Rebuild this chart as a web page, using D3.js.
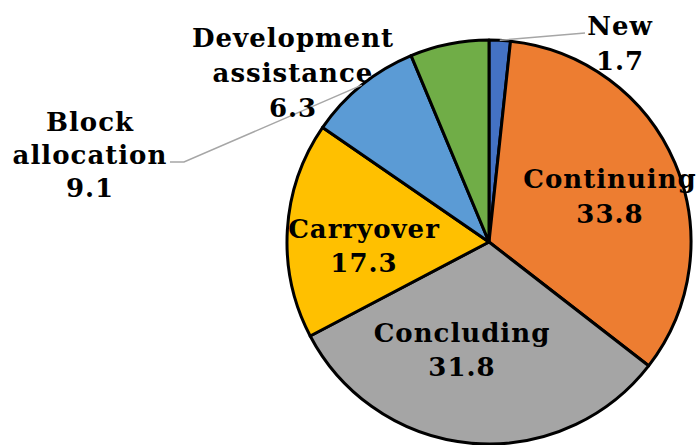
<!DOCTYPE html>
<html>
<head>
<meta charset="utf-8">
<script src="https://cdn.jsdelivr.net/npm/d3@7/dist/d3.min.js"></script>
<style>
html,body{margin:0;padding:0;background:#fff;}
svg{display:block;}
text{font-family:"DejaVu Serif",Georgia,serif;font-weight:bold;fill:#000;}
</style>
</head>
<body>
<svg id="chart" width="698" height="445"></svg>
<script>
// Data
const categories = ["New", "Continuing", "Concluding", "Carryover", "Block allocation", "Development assistance"];
const values = [1.7, 33.8, 31.8, 17.3, 9.1, 6.3];
const labelLines = [["New"], ["Continuing"], ["Concluding"], ["Carryover"], ["Block", "allocation"], ["Development", "assistance"]];
const colors = ["#4472C4", "#ED7D31", "#A5A5A5", "#FFC000", "#5B9BD5", "#70AD47"];

// Layout (label anchor = centre x, baseline of first line)
const cx = 489, cy = 242, R = 202;
const labelLayout = [
  {x: 620, y: 35, lead: [[585, 33]]},
  {x: 610, y: 188},
  {x: 462, y: 342},
  {x: 364, y: 238},
  {x: 90, y: 131, lead: [[170, 162], [184, 162]]},
  {x: 293, y: 47}
];
const lineGap = [35, 35, 34, 34, 33, 35];

const data = categories.map((c, i) => ({name: c, value: values[i], lines: labelLines[i], color: colors[i], layout: labelLayout[i], gap: lineGap[i]}));

const svg = d3.select("#chart");
const g = svg.append("g").attr("transform", `translate(${cx},${cy})`);

const pie = d3.pie().value(d => d.value).sort(null);
const arc = d3.arc().innerRadius(0).outerRadius(R);
const arcs = pie(data);

g.selectAll("path.slice").data(arcs).join("path")
  .attr("class", "slice")
  .attr("d", arc)
  .attr("fill", d => d.data.color)
  .attr("stroke", "#000")
  .attr("stroke-width", 3)
  .attr("stroke-linejoin", "round");

// leader lines
const edgeArc = d3.arc().innerRadius(R).outerRadius(R);
arcs.forEach(a => {
  const L = a.data.layout;
  if (!L.lead) return;
  const p = edgeArc.centroid(a);
  const pts = L.lead.map(q => [q[0], q[1]]).concat([[cx + p[0], cy + p[1]]]);
  svg.append("path")
    .attr("d", d3.line()(pts))
    .attr("fill", "none")
    .attr("stroke", "#A6A6A6")
    .attr("stroke-width", 1.5);
});

// labels
arcs.forEach(a => {
  const d = a.data, L = d.layout;
  const t = svg.append("text").attr("text-anchor", "middle").attr("font-size", 26).attr("letter-spacing", 1);
  const lines = d.lines.concat([d3.format(".1f")(d.value)]);
  lines.forEach((s, i) => {
    t.append("tspan").attr("x", L.x).attr("y", L.y + i * d.gap).text(s);
  });
});
</script>
</body>
</html>
